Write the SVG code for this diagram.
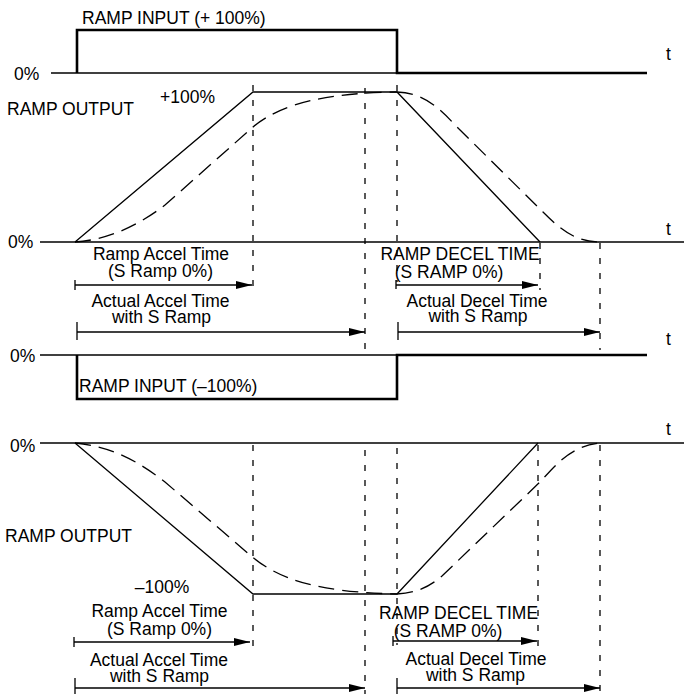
<svg xmlns="http://www.w3.org/2000/svg" width="684" height="694" viewBox="0 0 684 694">
<style>
.t{font-family:"Liberation Sans",Arial,Helvetica,sans-serif;font-size:17.5px;fill:#000}
.m{text-anchor:middle}
.thin{stroke:#000;stroke-width:1.3;fill:none}
.thick{stroke:#000;stroke-width:2.6;fill:none}
.vd{stroke:#000;stroke-width:1.3;fill:none;stroke-dasharray:6 9}
.cd{stroke:#000;stroke-width:1.3;fill:none;stroke-dasharray:16 8}
.arr{stroke:#000;stroke-width:1.3;fill:none;marker-end:url(#ah)}
</style>
<defs>
<marker id="ah" markerUnits="userSpaceOnUse" viewBox="0 0 16 8" refX="16" refY="4" markerWidth="16" markerHeight="8" orient="auto">
<path d="M0,0 L16,4 L0,8 z" fill="#000"/>
</marker>
</defs>
<rect width="684" height="694" fill="#fff"/>

<g id="input-positive">
<path class="thin" d="M51,73 H397"/>
<path class="thick" d="M77,73 V30 H397 V73 H647"/>
<text class="t" x="82" y="24">RAMP INPUT (+ 100%)</text>
<text class="t" x="14" y="80">0%</text>
<text class="t" x="666" y="60">t</text>
</g>

<g id="output-positive">
<path class="thin" d="M40,242 H684"/>
<path class="thin" d="M75,242 L253,92 H397 L540,242"/>
<path class="cd" d="M75,242 C105,240 135,228 165,205 L253,127 C283,102 330,93 397,92"/>
<path class="cd" d="M397,92 C420,93 435,103 455,125 L543,212 C560,229 575,242 600,242"/>
<text class="t" x="7" y="115">RAMP OUTPUT</text>
<text class="t" x="160" y="103">+100%</text>
<text class="t" x="8" y="248">0%</text>
<text class="t" x="666" y="235">t</text>
</g>

<g id="input-negative">
<path class="thin" d="M40,355 H397"/>
<path class="thick" d="M77,355 V399 H397 V355 H647"/>
<text class="t" x="79" y="392">RAMP INPUT (–100%)</text>
<text class="t" x="10" y="362">0%</text>
<text class="t" x="666" y="345">t</text>
</g>

<g id="output-negative">
<path class="thin" d="M40,443 H684"/>
<path class="thin" d="M75,443 L253,594 H397 L538,443"/>
<path class="cd" d="M75,443 C105,446 130,455 165,482 L250,555 C280,581 320,592 397,594"/>
<path class="cd" d="M397,594 C415,593 428,588 442,576 L540,482 C555,466 570,446 600,443"/>
<text class="t" x="5" y="542">RAMP OUTPUT</text>
<text class="t m" x="162" y="593">–100%</text>
<text class="t" x="10" y="452">0%</text>
<text class="t" x="666" y="435">t</text>
</g>

<g id="guides">
<path class="vd" d="M253,85 V290"/>
<path class="vd" d="M365,88 V350"/>
<path class="vd" d="M397,85 V282"/>
<path class="vd" d="M540,243 V290"/>
<path class="vd" d="M600,243 V350"/>
<path class="vd" d="M253,445 V653"/>
<path class="vd" d="M365,450 V694"/>
<path class="vd" d="M397,448 V645"/>
<path class="vd" d="M538,445 V648"/>
<path class="vd" d="M600,445 V694"/>
</g>

<g id="connectors">
<path class="thin" d="M75,280 V290 M77,322 V340 M396,280 V289 M398,322 V340"/>
<path class="arr" d="M75,285 H252"/>
<path class="arr" d="M77,332 H365"/>
<path class="arr" d="M396,285 H538"/>
<path class="arr" d="M398,332 H600"/>
<path class="thin" d="M74,637 V647 M75,678 V694 M393,636 V646 M397,678 V694"/>
<path class="arr" d="M74,642 H250"/>
<path class="arr" d="M75,688 H365"/>
<path class="arr" d="M393,641 H537"/>
<path class="arr" d="M397,688 H600"/>
</g>

<g id="labels-top">
<text class="t m" x="161" y="260">Ramp Accel Time</text>
<text class="t m" x="160.5" y="277">(S Ramp 0%)</text>
<text class="t m" x="160.5" y="307">Actual Accel Time</text>
<text class="t m" x="161.5" y="323">with S Ramp</text>
<text class="t m" x="460" y="260">RAMP DECEL TIME</text>
<text class="t m" x="449" y="278">(S RAMP 0%)</text>
<text class="t m" x="477" y="307">Actual Decel Time</text>
<text class="t m" x="478" y="322">with S Ramp</text>
</g>

<g id="labels-bottom">
<text class="t m" x="159.5" y="617">Ramp Accel Time</text>
<text class="t m" x="159.5" y="635">(S Ramp 0%)</text>
<text class="t m" x="159" y="666">Actual Accel Time</text>
<text class="t m" x="159.5" y="682">with S Ramp</text>
<text class="t m" x="458.5" y="619">RAMP DECEL TIME</text>
<text class="t m" x="448" y="637">(S RAMP 0%)</text>
<text class="t m" x="476" y="665">Actual Decel Time</text>
<text class="t m" x="475.5" y="681">with S Ramp</text>
</g>
</svg>
